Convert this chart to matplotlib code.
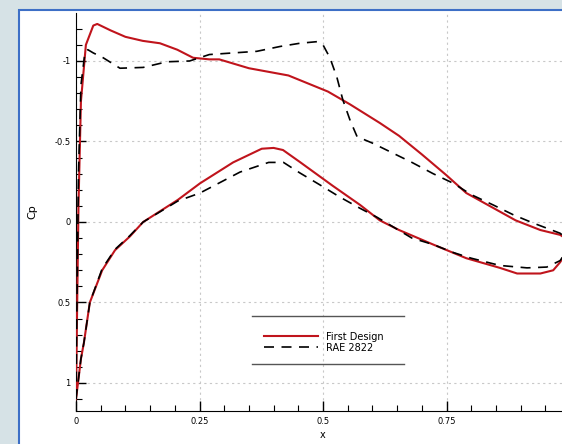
import matplotlib
matplotlib.use('Agg')
import matplotlib.pyplot as plt
from matplotlib.lines import Line2D
from matplotlib.patches import Rectangle
from matplotlib.ticker import MultipleLocator, FixedLocator, FixedFormatter

# First Design, suction (upper) side
red_up_x = [0, 0.002, 0.005, 0.01, 0.02, 0.035, 0.043, 0.07, 0.10, 0.135, 0.17, 0.205,
            0.237, 0.27, 0.29, 0.35, 0.43, 0.47, 0.51, 0.555, 0.615, 0.654, 0.70, 0.75,
            0.79, 0.89, 0.94, 0.98, 1.0]
red_up_cp = [1.1, 0.6, -0.1, -0.75, -1.1, -1.22, -1.23, -1.19, -1.15, -1.125, -1.11, -1.07,
             -1.02, -1.01, -1.01, -0.955, -0.91, -0.86, -0.81, -0.73, -0.615, -0.535, -0.42, -0.29,
             -0.18, -0.01, 0.05, 0.08, 0.12]

# First Design, pressure (lower) side
red_lo_x = [0, 0.002, 0.004, 0.01, 0.016, 0.028, 0.053, 0.079, 0.109, 0.136, 0.206, 0.251,
            0.318, 0.376, 0.40, 0.419, 0.453, 0.52, 0.575, 0.615, 0.654, 0.723, 0.79, 0.858,
            0.893, 0.94, 0.966, 0.98, 1.0]
red_lo_cp = [1.1, 1.05, 1.0, 0.85, 0.75, 0.5, 0.30, 0.175, 0.09, 0.0, -0.137, -0.24,
             -0.37, -0.455, -0.46, -0.447, -0.373, -0.224, -0.106, -0.01, 0.05, 0.14, 0.225, 0.285,
             0.32, 0.32, 0.30, 0.25, 0.15]

# RAE 2822, upper side
blk_up_x = [0, 0.002, 0.005, 0.01, 0.018, 0.024, 0.035, 0.055, 0.089, 0.136, 0.184, 0.23,
            0.27, 0.318, 0.366, 0.413, 0.453, 0.488, 0.50, 0.514, 0.528, 0.54, 0.555, 0.569,
            0.60, 0.68, 0.723, 0.764, 0.80, 0.845, 0.885, 0.925, 0.98, 1.0]
blk_up_cp = [1.1, 0.5, -0.3, -0.85, -1.05, -1.07, -1.05, -1.02, -0.955, -0.96, -0.995, -1.0,
             -1.04, -1.05, -1.06, -1.09, -1.11, -1.12, -1.10, -1.02, -0.90, -0.76, -0.63, -0.53,
             -0.49, -0.37, -0.30, -0.24, -0.17, -0.105, -0.045, 0.006, 0.07, 0.12]

# RAE 2822, lower side
blk_lo_x = [0, 0.002, 0.004, 0.01, 0.016, 0.028, 0.053, 0.079, 0.109, 0.136, 0.206, 0.251,
            0.332, 0.39, 0.42, 0.453, 0.494, 0.534, 0.575, 0.609, 0.68, 0.723, 0.764, 0.80,
            0.858, 0.913, 0.953, 0.98, 1.0]
blk_lo_cp = [1.1, 1.05, 1.0, 0.85, 0.75, 0.5, 0.29, 0.17, 0.085, 0.0, -0.13, -0.18,
             -0.31, -0.37, -0.37, -0.305, -0.23, -0.155, -0.085, -0.03, 0.10, 0.14, 0.19, 0.225,
             0.27, 0.285, 0.28, 0.24, 0.15]

xticks = [0, 0.25, 0.5, 0.75, 1.0]
xtick_labels = ['0', '0.25', '0.5', '0.75', '']
yticks = [-1, -0.5, 0, 0.5, 1]
ytick_labels = ['-1', '-0.5', '0', '0.5', '1']

RED = '#c0141c'

fig = plt.figure(figsize=(5.62, 4.44), dpi=100)
fig.patch.set_facecolor('#d6e2e6')

# white panel with blue border (screenshot frame)
fig.add_artist(Rectangle((19 / 562, -0.05), 1.0, (444 - 10) / 444 + 0.05,
                         transform=fig.transFigure, facecolor='white',
                         edgecolor='#3d6fc6', lw=1.5, zorder=0))

ax = fig.add_axes([76 / 562, 33 / 444, 494 / 562, 398 / 444])
ax.set_facecolor('none')

ax.plot(red_up_x, red_up_cp, color=RED, lw=1.5, label='First Design', zorder=3)
ax.plot(red_lo_x, red_lo_cp, color=RED, lw=1.5, zorder=3)
ax.plot(blk_up_x, blk_up_cp, color='black', lw=1.2, dashes=(6, 4.5), label='RAE 2822', zorder=4)
ax.plot(blk_lo_x, blk_lo_cp, color='black', lw=1.2, dashes=(6, 4.5), zorder=4)

ax.set_xlim(0, 1)
ax.set_ylim(1.174, -1.298)

ax.xaxis.set_major_locator(FixedLocator(xticks))
ax.xaxis.set_major_formatter(FixedFormatter(xtick_labels))
ax.yaxis.set_major_locator(FixedLocator(yticks))
ax.yaxis.set_major_formatter(FixedFormatter(ytick_labels))
ax.xaxis.set_minor_locator(MultipleLocator(0.05))
ax.yaxis.set_minor_locator(MultipleLocator(0.1))
ax.tick_params(which='both', direction='in', top=False, right=False, labelsize=6, pad=4)
ax.tick_params(which='major', length=7, width=1.0)
ax.tick_params(which='minor', length=4, width=0.8)

ax.grid(which='major', color='#c8c8c8', linestyle=(0, (2, 3)), lw=0.8)
ax.spines['top'].set_visible(False)
ax.spines['right'].set_visible(False)

ax.set_xlabel('x', fontsize=7, labelpad=3)
ax.set_ylabel('Cp', fontsize=8, labelpad=12)

leg = ax.legend(loc='center', bbox_to_anchor=(0.502, 0.173), frameon=False,
                fontsize=7, handlelength=5.5, handletextpad=0.9, labelspacing=0.1)

# legend box drawn as top and bottom rules only
for yy in (316, 364):
    fig.add_artist(Line2D([252 / 562, 404 / 562], [1 - yy / 444, 1 - yy / 444],
                          color='#555555', lw=1.0, transform=fig.transFigure))

fig.savefig('out.png', dpi=100, facecolor=fig.get_facecolor())
